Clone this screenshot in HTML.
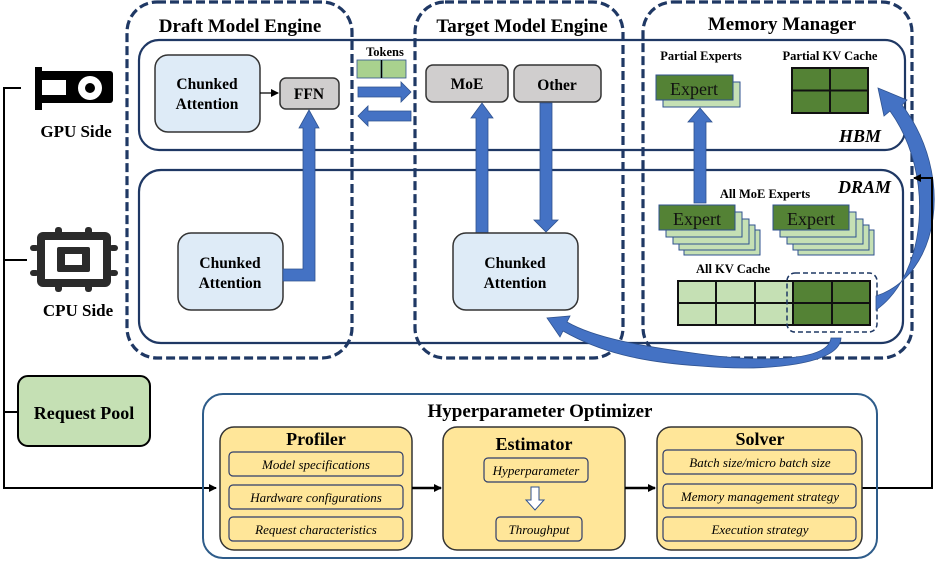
<!DOCTYPE html>
<html><head><meta charset="utf-8"><style>
html,body{margin:0;padding:0;background:#fff;}
svg{display:block;font-family:"Liberation Serif",serif;}
.b{font-weight:bold;}
</style></head><body>
<svg width="947" height="562" viewBox="0 0 947 562" xmlns="http://www.w3.org/2000/svg">
<defs>
<marker id="ah" markerWidth="8" markerHeight="8" refX="7" refY="4" orient="auto" markerUnits="userSpaceOnUse"><path d="M0,0 L8,4 L0,8 z" fill="#000"/></marker>
</defs>
<rect x="139" y="40" width="766" height="110" rx="20" fill="none" stroke="#1f3864" stroke-width="2.2"/>
<rect x="139" y="170" width="764" height="173" rx="22" fill="none" stroke="#1f3864" stroke-width="2.2"/>
<rect x="127" y="2" width="225" height="356" rx="30" fill="none" stroke="#1f3864" stroke-width="3.2" stroke-dasharray="9,4"/>
<rect x="415" y="2" width="208" height="356" rx="30" fill="none" stroke="#1f3864" stroke-width="3.2" stroke-dasharray="9,4"/>
<rect x="643" y="2" width="269" height="356" rx="30" fill="none" stroke="#1f3864" stroke-width="3.2" stroke-dasharray="9,4"/>
<text x="240" y="32" font-size="19" class="b" text-anchor="middle">Draft Model Engine</text>
<text x="522" y="32" font-size="19" class="b" text-anchor="middle">Target Model Engine</text>
<text x="782" y="30" font-size="19" class="b" text-anchor="middle">Memory Manager</text>

<path d="M21,88 H4 V488 H216" fill="none" stroke="#000" stroke-width="2" marker-end="url(#ah)"/>
<path d="M4,260 H27 M4,412 H18" stroke="#000" stroke-width="2"/>
<rect x="35" y="67" width="7" height="43" fill="#000"/>
<rect x="35" y="71" width="78" height="32" rx="3" fill="#000"/>
<rect x="42" y="80" width="24" height="15" fill="#fff"/>
<circle cx="90" cy="88" r="12" fill="#fff"/>
<circle cx="90" cy="88" r="5" fill="#000"/>
<text x="76" y="137" font-size="17" class="b" text-anchor="middle">GPU Side</text>
<g fill="#2b2b2b">
<rect x="37" y="232" width="74" height="55" rx="6"/>
<rect x="55" y="227" width="7" height="8" rx="3"/><rect x="85" y="227" width="7" height="8" rx="3"/>
<rect x="55" y="284" width="7" height="8" rx="3"/><rect x="85" y="284" width="7" height="8" rx="3"/>
<rect x="30" y="245" width="9" height="6" rx="3"/><rect x="30" y="270" width="9" height="6" rx="3"/>
<rect x="109" y="245" width="9" height="6" rx="3"/><rect x="109" y="270" width="9" height="6" rx="3"/>
</g>
<rect x="45" y="240" width="58" height="39" fill="#fff"/>
<rect x="57" y="247" width="33" height="25" rx="2" fill="#2b2b2b"/>
<rect x="65" y="254" width="17" height="11" fill="#fff"/>
<text x="78" y="316" font-size="17" class="b" text-anchor="middle">CPU Side</text>
<rect x="18" y="376" width="132" height="70" rx="10" fill="#c5e0b4" stroke="#000" stroke-width="2"/>
<text x="84" y="419" font-size="18" class="b" text-anchor="middle">Request Pool</text>

<rect x="155" y="55" width="105" height="77" rx="13" fill="#deebf7" stroke="#333" stroke-width="1.5"/>
<text x="207" y="89" font-size="15.5" class="b" text-anchor="middle">Chunked</text>
<text x="207" y="109" font-size="15.5" class="b" text-anchor="middle">Attention</text>
<path d="M260,93 H278" stroke="#000" stroke-width="1.2" marker-end="url(#ah)"/>
<rect x="280" y="78" width="59" height="31" rx="6" fill="#d0cece" stroke="#333" stroke-width="1.5"/>
<text x="309" y="99" font-size="15.5" class="b" text-anchor="middle">FFN</text>
<rect x="178" y="233" width="105" height="77" rx="13" fill="#deebf7" stroke="#333" stroke-width="1.5"/>
<text x="230" y="268" font-size="15.5" class="b" text-anchor="middle">Chunked</text>
<text x="230" y="288" font-size="15.5" class="b" text-anchor="middle">Attention</text>
<path d="M283,269 H303 V128 H299 L309,110 L319,128 H315 V281 H283 Z" fill="#4472c4" stroke="#2f528f" stroke-width="0.8"/>

<text x="385" y="56" font-size="12.5" class="b" text-anchor="middle">Tokens</text>
<rect x="357" y="60" width="24" height="18" fill="#a9d18e" stroke="#2f528f" stroke-width="0.8"/>
<rect x="382" y="60" width="24" height="18" fill="#a9d18e" stroke="#2f528f" stroke-width="0.8"/>
<line x1="381.5" y1="60" x2="381.5" y2="78" stroke="#000" stroke-width="1.2"/>
<path d="M358,87 H401 V82 L411,92 L401,102 V97 H358 Z" fill="#4472c4" stroke="#2f528f" stroke-width="0.8"/>
<path d="M411,111 H368 V106 L358,116 L368,126 V121 H411 Z" fill="#4472c4" stroke="#2f528f" stroke-width="0.8"/>

<rect x="426" y="65" width="82" height="37" rx="7" fill="#d0cece" stroke="#333" stroke-width="1.5"/>
<text x="467" y="89" font-size="15.5" class="b" text-anchor="middle">MoE</text>
<rect x="514" y="65" width="87" height="37" rx="7" fill="#d0cece" stroke="#333" stroke-width="1.5"/>
<text x="557" y="90" font-size="15.5" class="b" text-anchor="middle">Other</text>
<path d="M476,233 V118 H471 L482,103 L493,118 H488 V233 Z" fill="#4472c4" stroke="#2f528f" stroke-width="0.8"/>
<path d="M540,103 H552 V220 H558 L546,232 L534,220 H540 Z" fill="#4472c4" stroke="#2f528f" stroke-width="0.8"/>
<rect x="453" y="233" width="125" height="77" rx="13" fill="#deebf7" stroke="#333" stroke-width="1.5"/>
<text x="515" y="268" font-size="15.5" class="b" text-anchor="middle">Chunked</text>
<text x="515" y="288" font-size="15.5" class="b" text-anchor="middle">Attention</text>

<text x="701" y="60" font-size="12.5" class="b" text-anchor="middle">Partial Experts</text>
<text x="830" y="60" font-size="12.5" class="b" text-anchor="middle">Partial KV Cache</text>
<rect x="663" y="82" width="77" height="25" fill="#c5e0b4" stroke="#2f528f" stroke-width="1"/>
<rect x="656" y="75" width="77" height="25" fill="#548235" stroke="#2f528f" stroke-width="1"/>
<text x="694" y="95" font-size="18" text-anchor="middle" fill="#111">Expert</text>
<rect x="792" y="68" width="76" height="45" fill="#548235" stroke="#111" stroke-width="2"/>
<line x1="830" y1="68" x2="830" y2="113" stroke="#111" stroke-width="2"/>
<line x1="792" y1="90.5" x2="868" y2="90.5" stroke="#111" stroke-width="2"/>
<text x="881" y="142" font-size="18" font-style="italic" class="b" text-anchor="end">HBM</text>
<text x="891" y="193" font-size="18" font-style="italic" class="b" text-anchor="end">DRAM</text>
<path d="M694,203 V122 H688 L700,108 L712,122 H706 V203 Z" fill="#4472c4" stroke="#2f528f" stroke-width="0.8"/>
<text x="765" y="198" font-size="12.5" class="b" text-anchor="middle">All MoE Experts</text>
<g stroke="#2f528f" stroke-width="1">
<rect x="684" y="230" width="76" height="25" fill="#c5e0b4"/>
<rect x="679" y="225" width="76" height="25" fill="#c5e0b4"/>
<rect x="673" y="219" width="76" height="25" fill="#c5e0b4"/>
<rect x="666" y="212" width="76" height="25" fill="#c5e0b4"/>
<rect x="659" y="205" width="76" height="25" fill="#548235"/>
<rect x="798" y="230" width="76" height="25" fill="#c5e0b4"/>
<rect x="793" y="225" width="76" height="25" fill="#c5e0b4"/>
<rect x="787" y="219" width="76" height="25" fill="#c5e0b4"/>
<rect x="780" y="212" width="76" height="25" fill="#c5e0b4"/>
<rect x="773" y="205" width="76" height="25" fill="#548235"/>
</g>
<text x="697" y="225" font-size="18" text-anchor="middle" fill="#111">Expert</text>
<text x="811" y="225" font-size="18" text-anchor="middle" fill="#111">Expert</text>
<text x="733" y="273" font-size="12.5" class="b" text-anchor="middle">All KV Cache</text>
<rect x="678" y="281" width="115" height="44" fill="#c5e0b4"/>
<rect x="793" y="281" width="77" height="44" fill="#548235"/>
<g stroke="#111" stroke-width="2" fill="none">
<rect x="678" y="281" width="192" height="44"/>
<line x1="716" y1="281" x2="716" y2="325"/><line x1="755" y1="281" x2="755" y2="325"/>
<line x1="793" y1="281" x2="793" y2="325"/><line x1="832" y1="281" x2="832" y2="325"/>
<line x1="678" y1="303" x2="870" y2="303"/>
</g>
<rect x="787" y="273" width="90" height="59" rx="8" fill="none" stroke="#1f3864" stroke-width="1.5" stroke-dasharray="5,3"/>
<path d="M876,296 C940,275 955,175 902,105 L907,100 L878,88 L884,116 L890,111 C936,175 926,275 876,310 Z" fill="#4472c4" stroke="#2f528f" stroke-width="0.8"/>
<path d="M831,338 C828,362 760,362 700,354 C640,346 595,338 567,322 L570,316 L547,318 L560,337 L563,331 C600,352 640,362 700,366 C770,372 840,364 841,338 Z" fill="#4472c4" stroke="#2f528f" stroke-width="0.8"/>

<path d="M862,488 H932 V178 H914" fill="none" stroke="#000" stroke-width="2" marker-end="url(#ah)"/>

<rect x="203" y="394" width="674" height="164" rx="20" fill="none" stroke="#2e5c8a" stroke-width="2"/>
<text x="540" y="417" font-size="19" class="b" text-anchor="middle">Hyperparameter Optimizer</text>
<g fill="#ffe699" stroke="#333" stroke-width="1.5">
<rect x="220" y="427" width="192" height="123" rx="14"/>
<rect x="443" y="427" width="182" height="123" rx="14"/>
<rect x="657" y="427" width="205" height="123" rx="14"/>
</g>
<text x="316" y="445" font-size="18" class="b" text-anchor="middle">Profiler</text>
<text x="534" y="450" font-size="18" class="b" text-anchor="middle">Estimator</text>
<text x="760" y="445" font-size="18" class="b" text-anchor="middle">Solver</text>
<g fill="#ffe699" stroke="#2f3d6b" stroke-width="1.2">
<rect x="229" y="452" width="174" height="24" rx="4"/>
<rect x="229" y="485" width="174" height="24" rx="4"/>
<rect x="229" y="517" width="174" height="24" rx="4"/>
<rect x="484" y="458" width="104" height="24" rx="4"/>
<rect x="496" y="517" width="86" height="24" rx="4"/>
<rect x="663" y="450" width="193" height="24" rx="4"/>
<rect x="663" y="484" width="193" height="24" rx="4"/>
<rect x="663" y="517" width="193" height="24" rx="4"/>
</g>
<g font-size="13" font-style="italic" text-anchor="middle">
<text x="316" y="469">Model specifications</text>
<text x="316" y="502">Hardware configurations</text>
<text x="316" y="534">Request characteristics</text>
<text x="536" y="475">Hyperparameter</text>
<text x="539" y="534">Throughput</text>
<text x="760" y="467">Batch size/micro batch size</text>
<text x="760" y="501">Memory management strategy</text>
<text x="760" y="534">Execution strategy</text>
</g>
<path d="M531,487 H539 V500 H544 L535,510 L526,500 H531 Z" fill="#fff" stroke="#2f528f" stroke-width="1"/>
<path d="M412,488 H441" stroke="#000" stroke-width="2.5" marker-end="url(#ah)"/>
<path d="M625,488 H655" stroke="#000" stroke-width="2.5" marker-end="url(#ah)"/>
</svg>
</body></html>
